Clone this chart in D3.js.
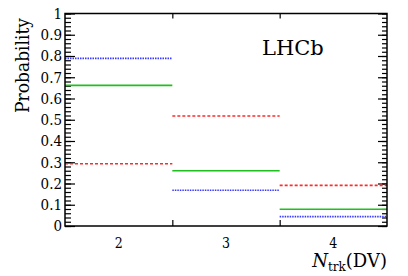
<!DOCTYPE html>
<html>
<head>
<meta charset="utf-8">
<script src="https://cdn.jsdelivr.net/npm/d3@7"></script>
<style>
  body { margin: 0; background: #fff; }
</style>
</head>
<body>
<div id="chart"></div>
<script>
// bins of N_trk(DV)
const nTrk = [2, 3, 4];
// probability per bin, one array per curve
const blueProb = [0.789, 0.168, 0.044];
const greenProb = [0.662, 0.260, 0.079];
const redProb = [0.293, 0.518, 0.191];
const yTicks = [0, 0.1, 0.2, 0.3, 0.4, 0.5, 0.6, 0.7, 0.8, 0.9, 1];

const serif = "DejaVu Serif";
const serifNarrow = "'DejaVu Serif Condensed', 'DejaVu Serif'";

let w = 408,
    h = 276;

let margin = { top: 13.5, bottom: 50, left: 65, right: 21 };

let svg = d3.select("#chart")
            .append("svg")
            .attr("width", w)
            .attr("height", h)
            .style("font-family", serif);

let x = d3.scaleLinear()
          .domain([1.5, 4.5])
          .range([margin.left, w - margin.right]);

let y = d3.scaleLinear()
          .domain([0, 1])
          .range([h - margin.bottom, margin.top]);

let minor = d3.range(0, 1.0001, 0.02);

// left axis, minor + major ticks pointing inward
svg.append("g")
   .attr("transform", `translate(${margin.left},0)`)
   .call(d3.axisLeft(y).tickValues(minor).tickSize(-6).tickFormat(""))
   .call(g => g.select(".domain").remove());

svg.append("g")
   .attr("class", "yaxis")
   .attr("transform", `translate(${margin.left},0)`)
   .call(d3.axisLeft(y).tickValues(yTicks).tickSize(-10).tickPadding(3).tickFormat(d => String(d)))
   .call(g => g.select(".domain").remove())
   .call(g => g.attr("font-family", serifNarrow))
   .call(g => g.selectAll("text").attr("font-size", 15));

// right axis
svg.append("g")
   .attr("transform", `translate(${w - margin.right},0)`)
   .call(d3.axisRight(y).tickValues(minor).tickSize(-5).tickFormat(""))
   .call(g => g.select(".domain").remove());

svg.append("g")
   .attr("transform", `translate(${w - margin.right},0)`)
   .call(d3.axisRight(y).tickValues(yTicks).tickSize(-9).tickFormat(""))
   .call(g => g.select(".domain").remove());

// bin edge ticks, top and bottom
let edges = [2.5, 3.5];

svg.append("g")
   .attr("transform", `translate(0,${h - margin.bottom})`)
   .call(d3.axisBottom(x).tickValues(edges).tickSize(-6).tickFormat(""))
   .call(g => g.select(".domain").remove());

svg.append("g")
   .attr("transform", `translate(0,${margin.top})`)
   .call(d3.axisTop(x).tickValues(edges).tickSize(-5).tickFormat(""))
   .call(g => g.select(".domain").remove());

svg.selectAll(".tick line").attr("stroke", "#000").attr("stroke-width", 1.2);

// bin labels
svg.selectAll(".binlabel")
   .data(nTrk)
   .enter()
   .append("text")
   .attr("class", "binlabel")
   .attr("x", d => x(d))
   .attr("y", 248)
   .attr("text-anchor", "middle")
   .attr("font-size", 14)
   .attr("font-family", serifNarrow)
   .text(d => d);

// histogram steps
let series = [
  { vals: redProb, color: "#ff2a2a", dash: "3,2" },
  { vals: greenProb, color: "#1ec01e", dash: null },
  { vals: blueProb, color: "#3a3aff", dash: "1.5,1" }
];

series.forEach(s => {
  svg.selectAll(null)
     .data(nTrk)
     .enter()
     .append("line")
     .attr("x1", d => x(d - 0.5))
     .attr("x2", d => x(d + 0.5))
     .attr("y1", (d, i) => y(s.vals[i]))
     .attr("y2", (d, i) => y(s.vals[i]))
     .attr("stroke", s.color)
     .attr("stroke-width", 1.6)
     .attr("stroke-dasharray", s.dash);
});

// frame
svg.append("rect")
   .attr("x", margin.left)
   .attr("y", margin.top)
   .attr("width", w - margin.right - margin.left)
   .attr("height", h - margin.bottom - margin.top)
   .attr("fill", "none")
   .attr("stroke", "#000")
   .attr("stroke-width", 1.5);

// titles
svg.append("text")
   .attr("transform", `translate(29,18) rotate(-90)`)
   .attr("text-anchor", "end")
   .attr("font-size", 19)
   .attr("font-family", serifNarrow)
   .text("Probability");

let xt = svg.append("text")
   .attr("x", w - margin.right)
   .attr("y", 267)
   .attr("text-anchor", "end")
   .attr("font-size", 18)
   .attr("font-family", serif);
xt.append("tspan").attr("font-style", "italic").text("N");
xt.append("tspan").attr("font-size", 12).attr("dy", 4).text("trk");
xt.append("tspan").attr("dy", -4).text("(DV)");

svg.append("text")
   .attr("x", 262)
   .attr("y", 55)
   .attr("font-size", 21)
   .attr("font-family", serif)
   .text("LHCb");
</script>
</body>
</html>
